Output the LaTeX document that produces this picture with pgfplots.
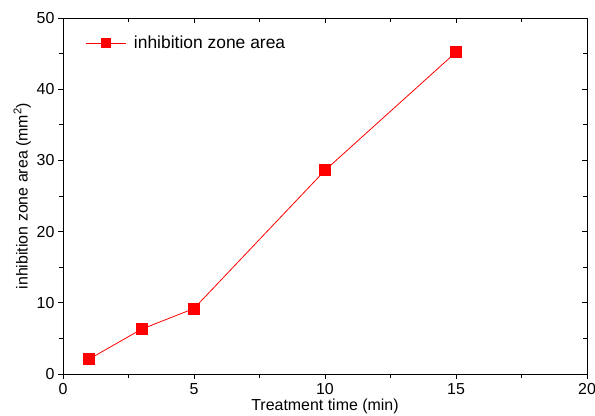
\documentclass[border=0pt]{standalone}
\usepackage{pgfplots}
\pgfplotsset{compat=1.18}
\usepackage{fontspec}
\setmainfont{Liberation Sans}
\begin{document}
\begin{tikzpicture}
% bottom/left axis with outward ticks and labels
\begin{axis}[
    name=main,
    scale only axis,
    width=524bp, height=356bp,
    xmin=0, xmax=20, ymin=0, ymax=50,
    xtick={0,5,10,15,20}, ytick={0,10,20,30,40,50},
    minor x tick num=1, minor y tick num=1,
    tick align=outside,
    major tick length=5bp, minor tick length=4bp,
    tick style={black, line width=0.8pt},
    axis line style={line width=0.8pt},
    xtick pos=bottom, ytick pos=left,
    /pgf/number format/assume math mode=true,
    tick label style={font=\fontsize{16}{18}\selectfont},
    xticklabel style={yshift=-3bp, inner sep=1bp},
    label style={font=\fontsize{16}{18}\selectfont},
    xlabel={Treatment time (min)},
    ylabel={inhibition zone area (mm\textsuperscript{2})},
    xlabel style={inner sep=0pt, yshift=-3bp},
    ylabel style={yshift=-1bp},
    legend style={draw=none, fill=none, at={(22bp,331bp)}, anchor=west,
        font=\fontsize{17.5}{20}\selectfont, inner sep=0pt,
        /tikz/every odd column/.append style={column sep=6bp}},
    legend cell align=left,
    legend image code/.code={
        \draw[#1, mark=none] (0bp,0bp) -- (40bp,0bp);
        \draw[#1, only marks, mark size=4.5bp] plot coordinates {(20bp,0bp)};
    },
]
\addplot[red, line width=0.8pt, mark=square*, mark size=5.5bp, mark options={fill=red, draw=red}]
    coordinates {(1,2.1) (3,6.3) (5,9.2) (10,28.6) (15,45.2)};
\legend{inhibition zone area}
\end{axis}
% top/right ticks pointing inward
\begin{axis}[
    at={(main.south west)}, anchor=south west,
    scale only axis,
    width=524bp, height=356bp,
    xmin=0, xmax=20, ymin=0, ymax=50,
    xtick={0,5,10,15,20}, ytick={0,10,20,30,40,50},
    minor x tick num=1, minor y tick num=1,
    tick align=inside,
    major tick length=5bp, minor tick length=4bp,
    tick style={black, line width=0.8pt},
    axis line style={line width=0.8pt},
    xtick pos=top, ytick pos=right,
    xticklabels={}, yticklabels={},
]
\end{axis}
\pgfresetboundingbox
\path (main.south west) ++(-63bp,-42bp) rectangle ++(595bp,416bp);
\end{tikzpicture}
\end{document}
